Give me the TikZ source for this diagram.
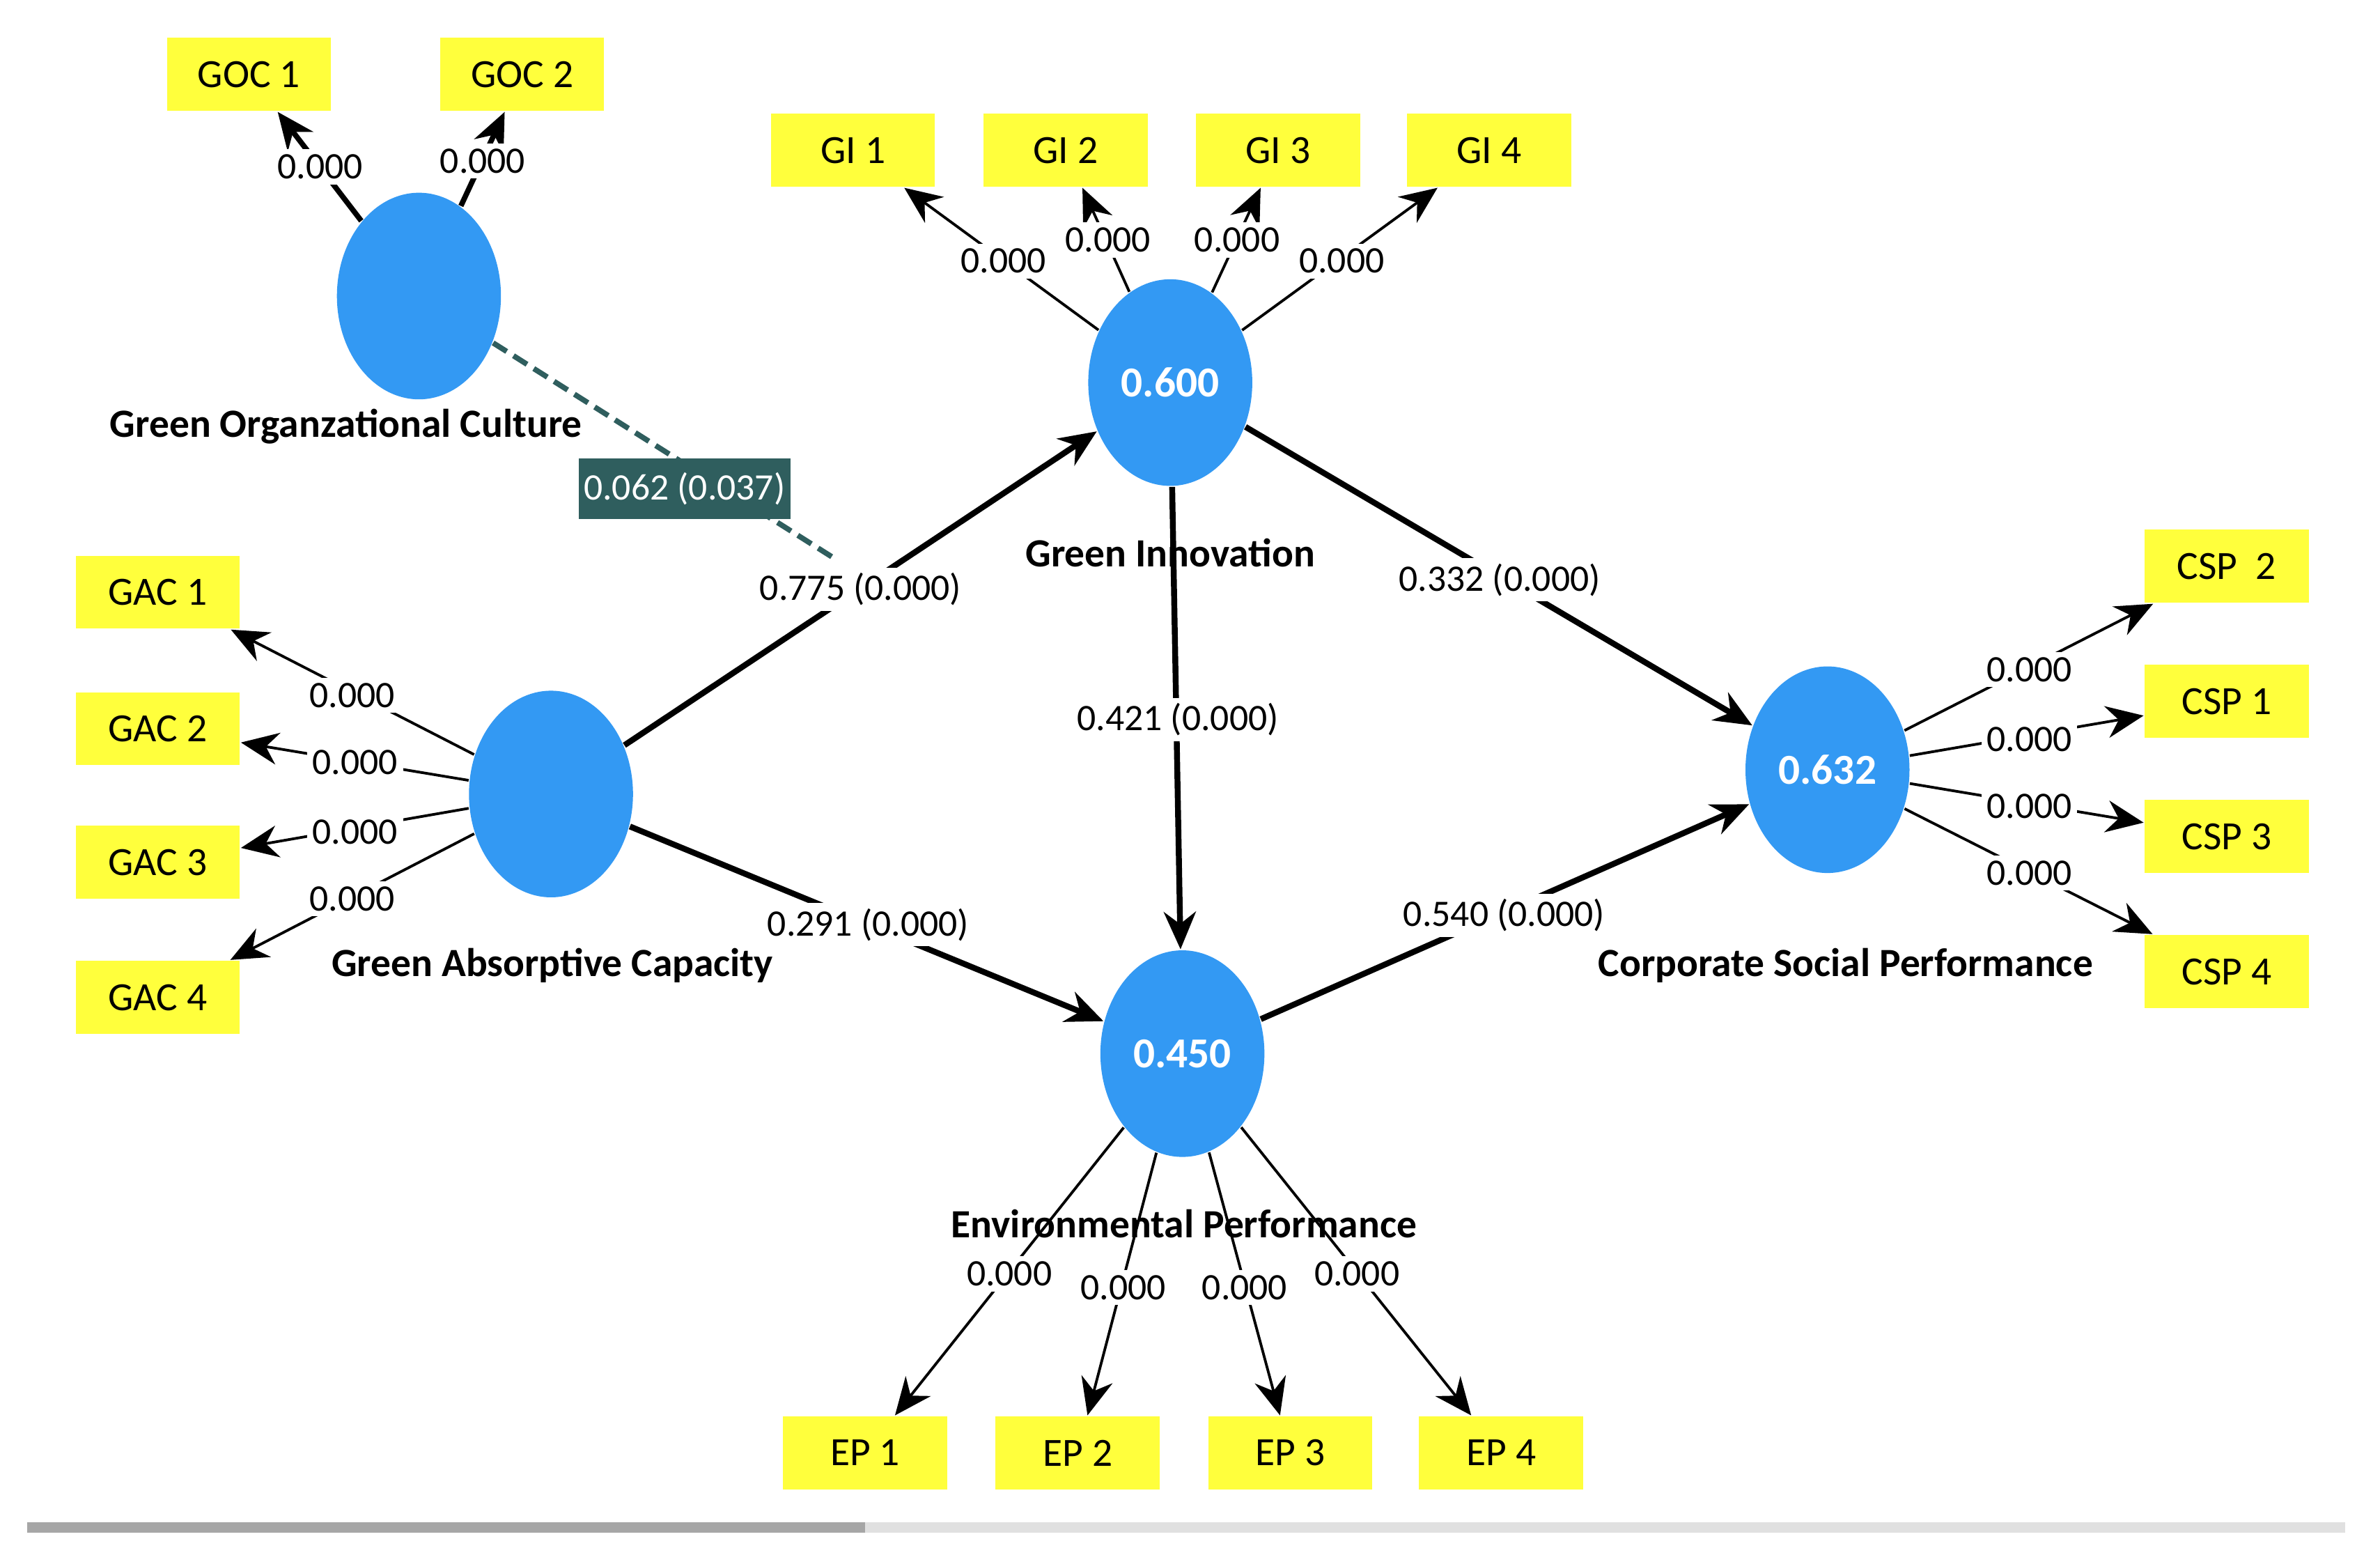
\documentclass[tikz,border=0pt]{standalone}
\usepackage{fontspec}
\setmainfont{Carlito}
\usepackage{tikz}
\usetikzlibrary{arrows.meta}
\usetikzlibrary{shapes.geometric}
\usetikzlibrary{positioning}
\definecolor{latentblue}{HTML}{3399F3}
\definecolor{itemyellow}{HTML}{FFFF3C}
\definecolor{modteal}{HTML}{2F5E5E}
\tikzset{>={Stealth[length=7pt,width=6pt]}}
\tikzset{
  latent/.style={ellipse, fill=latentblue, minimum width=1.08cm, minimum height=1.36cm,
    inner sep=0pt, text=white, font=\bfseries\fontsize{8}{9}\selectfont},
  item/.style={rectangle, fill=itemyellow, minimum width=1.08cm, minimum height=0.48cm,
    inner sep=0pt, font=\fontsize{7.5}{9}\selectfont},
  cname/.style={font=\bfseries\fontsize{7.5}{9}\selectfont},
  wt/.style={fill=white, inner sep=1pt, font=\fontsize{7}{8}\selectfont},
  outer/.style={->, line width=1.1pt},
  inner/.style={->, line width=0.5pt},
}
\begin{document}
\begin{tikzpicture}[x=0.01cm, y=-0.01cm]
  \useasboundingbox[fill=white] (0,0) rectangle (1568,1023.8);
  % latent variables
  \node[latent] (goc) at (276,195) {};
  \node[latent] (gi) at (771,252) {0.600};
  \node[latent] (gac) at (363,523) {};
  \node[latent] (ep) at (779,694) {0.450};
  \node[latent] (csp) at (1204,507) {0.632};
  \node[cname] at (228,281) {Green Organzational Culture};
  \node[cname] at (771,364) {Green Innovation};
  \node[cname] at (364,636) {Green Absorptive Capacity};
  \node[cname] at (780,806) {Environmental Performance};
  \node[cname] at (1216,636) {Corporate Social Performance};
  % indicators
  \node[item] (goc1) at (164,49) {GOC 1};
  \node[item] (goc2) at (344,49) {GOC 2};
  \node[item] (gi1) at (562,99) {GI 1};
  \node[item] (gi2) at (702,99) {GI 2};
  \node[item] (gi3) at (842,99) {GI 3};
  \node[item] (gi4) at (981,99) {GI 4};
  \node[item] (gac1) at (104,390) {GAC 1};
  \node[item] (gac2) at (104,480) {GAC 2};
  \node[item] (gac3) at (104,568) {GAC 3};
  \node[item] (gac4) at (104,657) {GAC 4};
  \node[item] (ep1) at (570,957) {EP 1};
  \node[item] (ep2) at (710,957) {EP 2};
  \node[item] (ep3) at (850,957) {EP 3};
  \node[item] (ep4) at (989,957) {EP 4};
  \node[item] (csp2) at (1467,373) {CSP\ \ 2};
  \node[item] (csp1) at (1467,462) {CSP 1};
  \node[item] (csp3) at (1467,551) {CSP 3};
  \node[item] (csp4) at (1467,640) {CSP 4};
  % outer loadings
  \draw[inner, line width=1pt] (goc) -- (goc1);
  \draw[inner, line width=1pt] (goc) -- (goc2);
  \draw[inner] (gi) -- (gi1);
  \draw[inner] (gi) -- (gi2);
  \draw[inner] (gi) -- (gi3);
  \draw[inner] (gi) -- (gi4);
  \draw[inner] (gac) -- (gac1);
  \draw[inner] (gac) -- (gac2);
  \draw[inner] (gac) -- (gac3);
  \draw[inner] (gac) -- (gac4);
  \draw[inner] (ep) -- (ep1);
  \draw[inner] (ep) -- (ep2);
  \draw[inner] (ep) -- (ep3);
  \draw[inner] (ep) -- (ep4);
  \draw[inner] (csp) -- (csp1);
  \draw[inner] (csp) -- (csp2);
  \draw[inner] (csp) -- (csp3);
  \draw[inner] (csp) -- (csp4);
  \node[wt] at (211,110) {0.000};
  \node[wt] at (318,106) {0.000};
  \node[wt] at (661,172) {0.000};
  \node[wt] at (730,158) {0.000};
  \node[wt] at (815,158) {0.000};
  \node[wt] at (884,172) {0.000};
  \node[wt] at (232,458) {0.000};
  \node[wt] at (234,502) {0.000};
  \node[wt] at (234,548) {0.000};
  \node[wt] at (232,592) {0.000};
  \node[wt] at (665,839) {0.000};
  \node[wt] at (740,848) {0.000};
  \node[wt] at (820,848) {0.000};
  \node[wt] at (894,839) {0.000};
  \node[wt] at (1337,441) {0.000};
  \node[wt] at (1337,487) {0.000};
  \node[wt] at (1337,531) {0.000};
  \node[wt] at (1337,575) {0.000};
  % inner model
  \coordinate (mod) at (550,368);
  \draw[dashed, modteal, line width=1pt, dash pattern=on 3pt off 1.5pt] (goc) -- (mod);
  \draw[outer] (gac) -- (gi);
  \draw[outer] (gac) -- (ep);
  \draw[outer] (gi) -- (ep);
  \draw[outer] (gi) -- (csp);
  \draw[outer] (ep) -- (csp);
  \node[wt] at (567,388) {0.775 (0.000)};
  \node[wt] at (988,382) {0.332 (0.000)};
  \node[wt] at (776,474) {0.421 (0.000)};
  \node[wt] at (572,609) {0.291 (0.000)};
  \node[wt] at (991,603) {0.540 (0.000)};
  \node[fill=modteal, text=white, minimum width=1.32cm, minimum height=0.4cm, inner sep=1pt,
    font=\fontsize{7}{8}\selectfont] at (451,322) {0.062 (0.037)};
  % scroll bar
  \draw[black!12, line width=2pt] (18,1006) -- (1545,1006);
  \draw[black!35, line width=2pt] (18,1006) -- (570,1006);
\end{tikzpicture}
\end{document}
